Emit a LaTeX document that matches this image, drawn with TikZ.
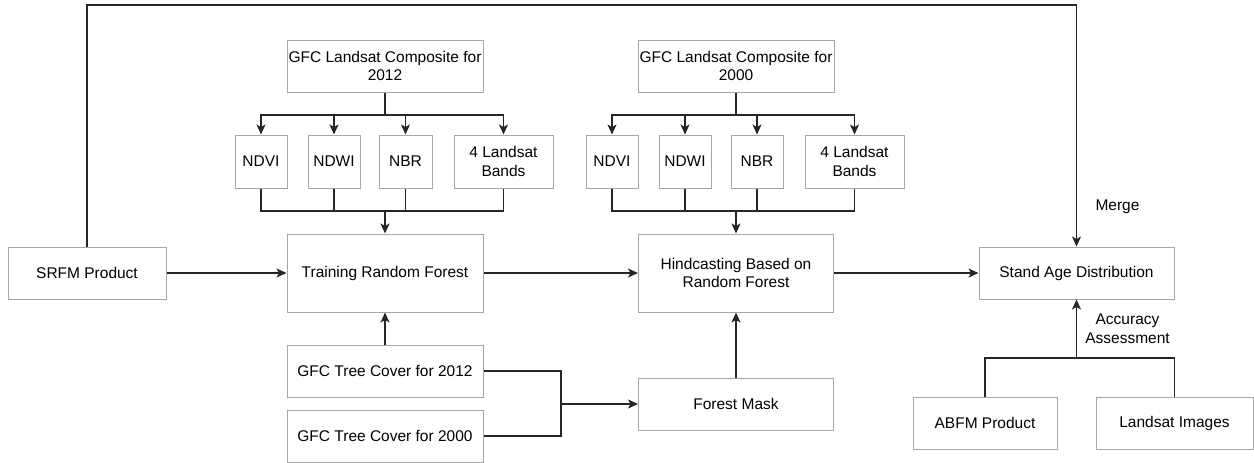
\documentclass[tikz,border=0pt]{standalone}
\usepackage{fontspec}
\setmainfont{Liberation Sans}
\usetikzlibrary{arrows.meta}

\begin{document}
\begin{tikzpicture}[x=1pt,y=-1pt,
        box/.style={draw=black!35,line width=1pt,minimum height=52pt,inner sep=0pt,
            align=center,font=\fontsize{15.5}{18.5}\selectfont},
        lbl/.style={inner sep=0pt,align=center,font=\fontsize{15.5}{18.5}\selectfont},
        link/.style={draw=black!85,line width=1.2pt},
        arr/.style={link,-{Stealth[length=10pt,width=9pt,inset=2.5pt]}}]
        \useasboundingbox (0,0) rectangle (1254,463);

        % boxes
        \node[box,minimum width=158pt] (srfm) at (87,273) {SRFM Product};
        \node[box,minimum width=196pt,minimum height=78pt] (train) at (385,273) {Training Random Forest};
        \node[box,minimum width=196pt] (comp12) at (385,66) {GFC Landsat Composite for\\2012};
        \node[box,minimum width=52pt,minimum height=53pt] (ndvi1) at (261,161.5) {NDVI};
        \node[box,minimum width=52pt,minimum height=53pt] (ndwi1) at (334,161.5) {NDWI};
        \node[box,minimum width=53pt,minimum height=53pt] (nbr1) at (405.5,161.5) {NBR};
        \node[box,minimum width=99pt,minimum height=53pt] (bands1) at (503.5,161.5) {4 Landsat\\Bands};
        \node[box,minimum width=196pt] (comp00) at (736,66) {GFC Landsat Composite for\\2000};
        \node[box,minimum width=52pt,minimum height=53pt] (ndvi2) at (612,161.5) {NDVI};
        \node[box,minimum width=52pt,minimum height=53pt] (ndwi2) at (685,161.5) {NDWI};
        \node[box,minimum width=52pt,minimum height=53pt] (nbr2) at (757,161.5) {NBR};
        \node[box,minimum width=99pt,minimum height=53pt] (bands2) at (854.5,161.5) {4 Landsat\\Bands};
        \node[box,minimum width=195pt,minimum height=78pt] (hind) at (736,273) {Hindcasting Based on\\Random Forest};
        \node[box,minimum width=196pt] (cover12) at (385,371) {GFC Tree Cover for 2012};
        \node[box,minimum width=196pt] (cover00) at (385,436) {GFC Tree Cover for 2000};
        \node[box,minimum width=195pt] (mask) at (736,404) {Forest Mask};
        \node[box,minimum width=195pt] (stand) at (1076.5,273) {Stand Age Distribution};
        \node[box,minimum width=144pt] (abfm) at (985,423) {ABFM Product};
        \node[box,minimum width=157pt] (lsimg) at (1174.5,423) {Landsat Images};

        % labels
        \node[lbl] (merge) at (1117.5,207) {Merge};
        \node[lbl] (acc) at (1127.5,328.5) {Accuracy\\Assessment};

        % junctions
        \coordinate (top) at (0,5);
        \coordinate (split12) at (385,115);
        \coordinate (join12) at (385,211);
        \coordinate (split00) at (736,115);
        \coordinate (join00) at (736,211);
        \coordinate (masks) at (561,404);
        \coordinate (check) at (1076.5,358);

        % indices for 2012 and 2000
        \draw[link] (comp12) -- (split12);
        \draw[link] (comp00) -- (split00);
        \foreach \n in {ndvi1,ndwi1,nbr1,bands1}{
            \draw[arr] (split12) -| (\n.north);
            \draw[link] (\n.south) |- (join12);
        }
        \foreach \n in {ndvi2,ndwi2,nbr2,bands2}{
            \draw[arr] (split00) -| (\n.north);
            \draw[link] (\n.south) |- (join00);
        }
        \draw[arr] (join12) -- (train.north);
        \draw[arr] (join00) -- (hind.north);

        % main flow
        \draw[arr] (srfm) -- (train);
        \draw[arr] (train) -- (hind);
        \draw[arr] (hind) -- (stand);
        \draw[arr] (srfm.north) -- (srfm.north |- top) -| (stand.north);
        \draw[arr] (cover12) -- (train);
        \draw[link] (cover12.east) -| (masks);
        \draw[link] (cover00.east) -| (masks);
        \draw[arr] (masks) -- (mask.west);
        \draw[arr] (mask) -- (hind);

        % validation
        \draw[link] (abfm.north) |- (check) -| (lsimg.north);
        \draw[arr] (check) -- (stand.south);
\end{tikzpicture}
\end{document}
